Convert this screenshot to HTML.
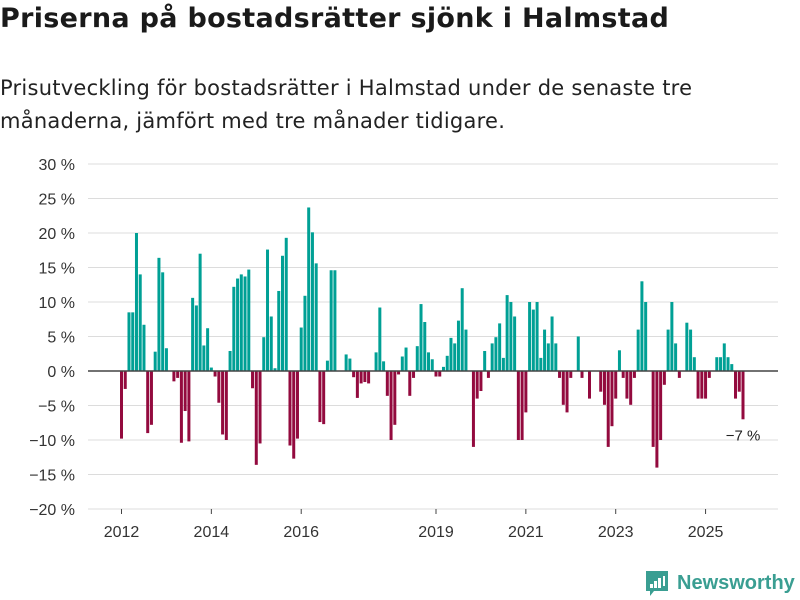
<!DOCTYPE html>
<html><head><meta charset="utf-8">
<style>
body{margin:0;background:#fff;font-family:"Liberation Sans",sans-serif;}
#wrap{position:relative;width:800px;height:600px;overflow:hidden;}
h1{position:absolute;left:0;top:3px;margin:0;font-family:"DejaVu Sans",sans-serif;font-size:27px;font-weight:bold;color:#1a1a1a;letter-spacing:0.3px;white-space:nowrap;}
p.sub{position:absolute;left:0;top:72px;margin:0;font-family:"DejaVu Sans",sans-serif;font-size:21px;line-height:33px;color:#222;width:730px;letter-spacing:0.25px;}
svg{position:absolute;left:0;top:0;}
</style></head><body>
<div id="wrap">
<h1>Priserna på bostadsrätter sjönk i Halmstad</h1>
<p class="sub">Prisutveckling för bostadsrätter i Halmstad under de senaste tre<br>månaderna, jämfört med tre månader tidigare.</p>
<svg id="chart" width="800" height="600"></svg>
</div>
<script>
const values=[-9.8,-2.6,8.5,8.5,20,14,6.7,-9,-7.8,2.8,16.4,14.3,3.3,0,-1.5,-1,-10.4,-5.8,-10.2,10.6,9.5,17,3.7,6.2,0.5,-0.8,-4.6,-9.2,-10,2.9,12.2,13.4,14,13.7,14.7,-2.5,-13.6,-10.5,4.9,17.6,7.9,0.4,11.6,16.7,19.3,-10.8,-12.7,-9.8,6.3,10.9,23.7,20.1,15.6,-7.4,-7.7,1.5,14.6,14.6,0,0,2.4,1.8,-0.9,-3.9,-1.8,-1.6,-1.8,0,2.7,9.2,1.4,-3.6,-10,-7.8,-0.5,2.1,3.4,-3.6,-1,3.6,9.7,7.1,2.7,1.7,-0.8,-0.8,0.6,2.2,4.8,4,7.3,12,6,0,-11,-4,-2.9,2.9,-1,4,4.9,6.9,1.9,11,10,7.9,-10,-10,-6,10,8.9,10,1.9,6,4,7.9,4,-1,-4.9,-6,-1,0,5,-1,0,-4,0,0,-3,-4.9,-11,-8,-4,3,-1,-4,-4.9,-1,6,13,10,0,-11,-14,-10,-2,6,10,4,-1,0,7,6,2,-4,-4,-4,-1,0,2,2,4,2,1,-4,-3,-7];
const yTicks=[30,25,20,15,10,5,0,-5,-10,-15,-20];
const yearLabels=["2012","2014","2016","2019","2021","2023","2025"];
const yearMonths=[0,24,48,84,108,132,156];
const lastLabel="−7 %";

const svg=document.getElementById('chart');
const NS='http://www.w3.org/2000/svg';
const y=v=>371-v*6.9;
const x=m=>121.5+m*3.744;
function mk(t,a){const e=document.createElementNS(NS,t);for(const k in a)e.setAttribute(k,a[k]);svg.appendChild(e);return e;}
yTicks.forEach(t=>{
  const g=mk('line',{x1:88,x2:778,y1:y(t),y2:y(t),stroke:'#dcdcdc','stroke-width':1});
  
  
  const l=mk('text',{x:75,y:y(t)+6,'text-anchor':'end','font-size':16,fill:'#333','font-family':'Liberation Sans, sans-serif'});
  l.textContent=(t<0?'−'+(-t):t)+' %';
  
  
});
values.forEach((v,i)=>{
  if(v===0)return;
  const r=mk('rect',{x:x(i)-1.5,width:3,y:v>0?y(v):y(0),height:Math.abs(y(v)-y(0)),fill:v>0?'#00a095':'#930a3e'});
  
  
});
const z=mk('line',{x1:88,x2:778,y1:y(0),y2:y(0),stroke:'#444','stroke-width':1.5});


yearLabels.forEach((lab,i)=>{
  const xx=x(yearMonths[i]);
  const tk=mk('line',{x1:xx,x2:xx,y1:509,y2:514,stroke:'#444','stroke-width':1});
  
  
  const t=mk('text',{x:xx,y:537,'text-anchor':'middle','font-size':16,fill:'#333','font-family':'Liberation Sans, sans-serif'});
  t.textContent=lab;
  
  
});
const li=values.length-1;
const ll=mk('text',{x:x(li),y:y(values[li])+21,'text-anchor':'middle','font-size':15,fill:'#222','font-family':'Liberation Sans, sans-serif'});
ll.textContent=lastLabel;


// logo
const lg=mk('g',{});


const ic=document.createElementNS(NS,'path');
ic.setAttribute('d','M646 571h22v20h-14l-4 5v-5h-4z');
ic.setAttribute('fill','#3a9e92');
lg.appendChild(ic);
[[650,584,3,4],[654,581,3,7],[658,578,3,10],[663,576,2,10]].forEach(b=>{const r=document.createElementNS(NS,'rect');r.setAttribute('x',b[0]);r.setAttribute('y',b[1]);r.setAttribute('width',b[2]);r.setAttribute('height',b[3]);r.setAttribute('fill','#fff');lg.appendChild(r);});
const lt=document.createElementNS(NS,'text');
lt.setAttribute('x',677);lt.setAttribute('y',589);lt.setAttribute('font-size',20);lt.setAttribute('font-weight','bold');lt.setAttribute('fill','#3a9e92');lt.setAttribute('font-family','Liberation Sans, sans-serif');
lt.textContent='Newsworthy';
lg.appendChild(lt);
</script>
</body></html>
